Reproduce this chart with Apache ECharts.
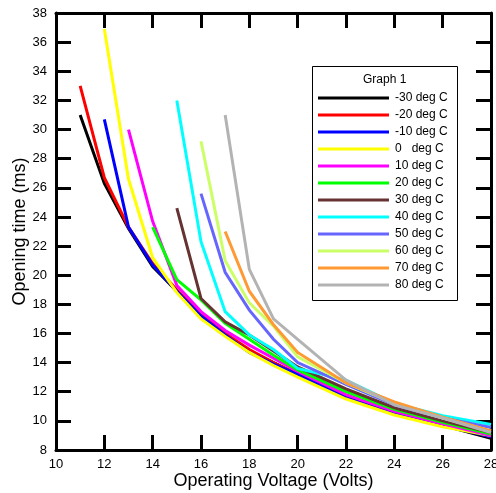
<!DOCTYPE html>
<html>
<head>
<meta charset="utf-8">
<script src="https://cdn.jsdelivr.net/npm/echarts@6/dist/echarts.min.js"></script>
<style>
html,body{margin:0;padding:0;background:#fff;}
#chart{width:496px;height:493px;}
</style>
</head>
<body>
<div id="chart"></div>
<script>
// Operating voltage (Volts)
const voltages = [11, 12, 13, 14, 15, 16, 17, 18, 19, 20, 22, 24, 26, 28];
const seriesNames = ['-30 deg C', '-20 deg C', '-10 deg C', '0   deg C', '10 deg C', '20 deg C',
                     '30 deg C', '40 deg C', '50 deg C', '60 deg C', '70 deg C', '80 deg C'];
// Opening time (ms), one value per voltage (null = no measurement)
const tM30 = [31.0, 26.3, 23.2, 20.6, 18.9, 17.2, 16.0, 14.8, 14.0, 13.2, 11.7, 10.5, 9.7, 8.8];
const tM20 = [33.0, 26.7, 23.3, 20.8, 19.0, 17.3, 16.0, 14.9, 14.0, 13.2, 11.7, 10.6, 9.8, 8.9];
const tM10 = [null, 30.7, 23.3, 20.7, 18.9, 17.2, 15.9, 14.7, 13.9, 13.2, 11.6, 10.5, 9.7, 8.9];
const t0   = [null, 36.9, 26.6, 21.2, 18.8, 17.0, 15.8, 14.7, 13.8, 13.0, 11.5, 10.4, 9.6, 9.0];
const t10  = [null, null, 30.0, 23.7, 19.3, 17.5, 16.2, 15.2, 14.3, 13.4, 11.8, 10.65, 9.8, 9.0];
const t20  = [null, null, null, 23.3, 19.7, 18.3, 16.7, 15.6, 14.5, 13.5, 12.0, 10.8, 9.9, 9.1];
const t30  = [null, null, null, null, 24.6, 18.4, 16.8, 15.9, 14.8, 13.7, 12.2, 10.9, 10.0, 9.2];
const t40  = [null, null, null, null, 32.0, 22.3, 17.5, 15.9, 14.9, 13.6, 12.8, 11.2, 10.35, 9.75];
const t50  = [null, null, null, null, null, 25.6, 20.2, 17.6, 15.6, 14.0, 12.5, 11.1, 10.2, 9.55];
const t60  = [null, null, null, null, null, 29.2, 21.0, 18.1, 16.5, 14.4, 12.6, 11.2, 10.2, 9.3];
const t70  = [null, null, null, null, null, null, 23.0, 18.9, 16.6, 14.7, 12.6, 11.3, 10.25, 9.3];
const t80  = [null, null, null, null, null, null, 31.0, 20.4, 17.0, 15.6, 12.8, 11.1, 10.2, 9.2];
const allValues = [tM30, tM20, tM10, t0, t10, t20, t30, t40, t50, t60, t70, t80];
const colors = ['#000000', '#ff0000', '#0000ff', '#ffff00', '#ff00ff', '#00ff00',
                '#663333', '#00ffff', '#6666ff', '#ccff66', '#ff9933', '#b3b3b3'];
const xTicks = {min: 10, max: 28, interval: 2};
const yTicks = {min: 8, max: 38, interval: 2};

const FONT = '"Liberation Sans", Arial, sans-serif';
const chart = echarts.init(document.getElementById('chart'), null, {renderer: 'canvas'});

const series = seriesNames.map((name, i) => ({
  name: name,
  type: 'line',
  xAxisIndex: 0,
  yAxisIndex: 0,
  symbol: 'none',
  connectNulls: false,
  animation: false,
  lineStyle: {color: colors[i], width: 3, join: 'miter'},
  itemStyle: {color: colors[i]},
  data: voltages.map((v, j) => [v, allValues[i][j]]).filter(p => p[1] !== null)
}));

const axisCommon = {
  type: 'value',
  axisLine: {show: true, onZero: false, lineStyle: {color: '#000', width: 3}},
  axisTick: {show: true, inside: true, length: 15, lineStyle: {color: '#000', width: 3}},
  splitLine: {show: false},
  minorTick: {show: false}
};

chart.setOption({
  animation: false,
  backgroundColor: '#ffffff',
  grid: {left: 56, right: 5, top: 13, bottom: 43, containLabel: false, outerBoundsMode: 'none'},
  xAxis: [
    Object.assign({}, axisCommon, {
      position: 'bottom', min: xTicks.min, max: xTicks.max, interval: xTicks.interval,
      name: 'Operating Voltage (Volts)', nameLocation: 'middle', nameGap: 22, nameMoveOverlap: false,
      nameTextStyle: {fontFamily: FONT, fontSize: 18, color: '#000'},
      axisLabel: {fontFamily: FONT, fontSize: 13, color: '#000', margin: 8}
    }),
    Object.assign({}, axisCommon, {
      position: 'top', min: xTicks.min, max: xTicks.max, interval: xTicks.interval,
      axisLabel: {show: false}
    })
  ],
  yAxis: [
    Object.assign({}, axisCommon, {
      position: 'left', min: yTicks.min, max: yTicks.max, interval: yTicks.interval,
      name: 'Opening time (ms)', nameLocation: 'middle', nameGap: 27, nameRotate: 90, nameMoveOverlap: false,
      nameTextStyle: {fontFamily: FONT, fontSize: 18, color: '#000'},
      axisLabel: {fontFamily: FONT, fontSize: 13, color: '#000', margin: 9}
    }),
    Object.assign({}, axisCommon, {
      position: 'right', min: yTicks.min, max: yTicks.max, interval: yTicks.interval,
      axisLabel: {show: false}
    })
  ],
  legend: {
    orient: 'vertical',
    left: 318,
    top: 91,
    padding: 0,
    itemWidth: 71,
    itemHeight: 3,
    itemGap: 3,
    icon: 'rect',
    selectedMode: false,
    textStyle: {fontFamily: FONT, fontSize: 12, color: '#000', lineHeight: 14, padding: [0, 0, 0, 1]},
    data: seriesNames
  },
  graphic: [
    {type: 'rect', left: 312, top: 66, shape: {width: 145, height: 234},
     style: {fill: '#fff', stroke: '#000', lineWidth: 1}, z: -1, silent: true},
    {type: 'text', left: 363, top: 74,
     style: {text: 'Graph 1', font: '12px ' + FONT, fill: '#000'}, silent: true}
  ],
  series: series
});
</script>
</body>
</html>
